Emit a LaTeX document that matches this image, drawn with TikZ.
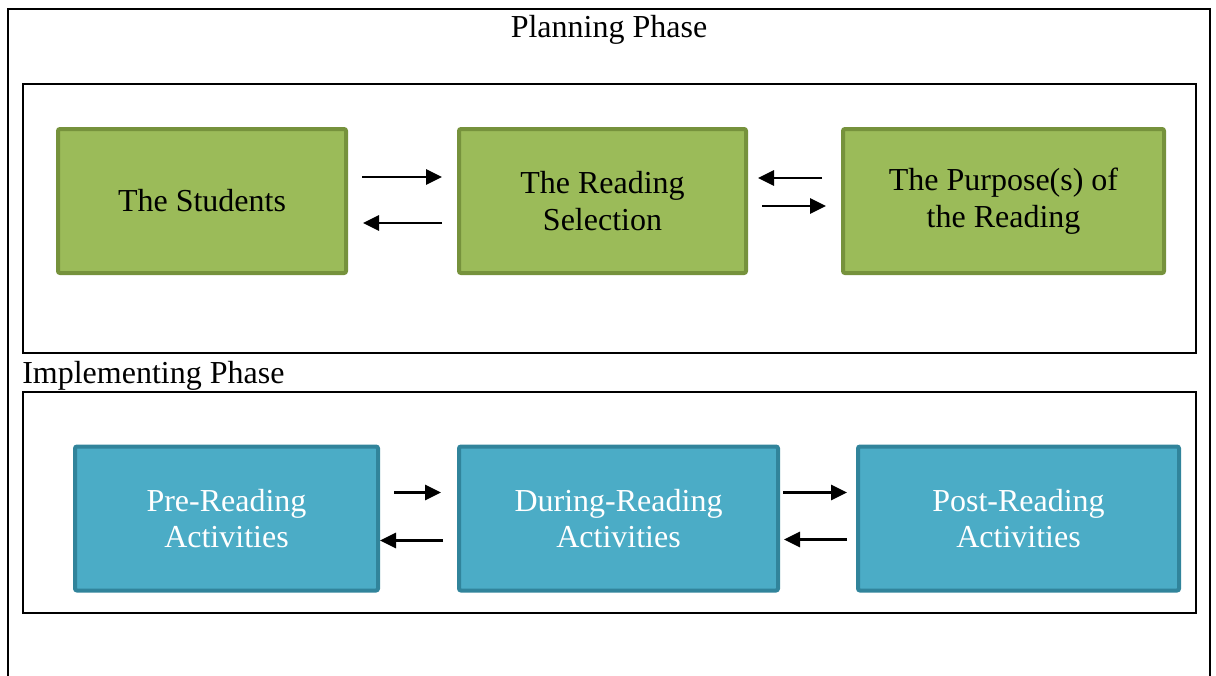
\documentclass[tikz,border=0pt]{standalone}
\usepackage{fontspec}
\setmainfont{Liberation Serif}
\usetikzlibrary{arrows.meta}

\definecolor{greenfill}{HTML}{9BBB59}
\definecolor{greenline}{HTML}{76923C}
\definecolor{bluefill}{HTML}{4BACC6}
\definecolor{blueline}{HTML}{31849B}

\tikzset{
  greenbox/.style={draw=greenline, fill=greenfill, line width=3pt, rounded corners=1.5pt,
    minimum height=108pt, inner sep=0pt, align=center, text=black},
  bluebox/.style={draw=blueline, fill=bluefill, line width=3pt, rounded corners=1.5pt,
    minimum height=108pt, inner sep=0pt, align=center, text=white},
  arr/.style={line width=1.7pt, -{Triangle[length=12pt,width=11.5pt]}},
  frame/.style={line width=1.6pt}
}

\begin{document}
\begin{tikzpicture}[x=0.75pt,y=-0.75pt,font=\fontsize{24}{27.6}\selectfont]
\useasboundingbox (0,0) rectangle (1216,675);

% outer frame, open at the bottom
\draw[line width=2pt] (8,690) -- (8,9) -- (1210,9) -- (1210,690);

% planning phase
\node[anchor=base] (plan) at (609,37) {Planning Phase};
\draw[frame] (23,84) rectangle (1196,353);

\node[greenbox, minimum width=216pt] (stud) at (202,201) {The Students};
\node[greenbox, minimum width=215.25pt] (sel) at (602.5,201) {The Reading\\Selection};
\node[greenbox, minimum width=240.75pt] (purp) at (1003.5,201) {The Purpose(s) of\\the Reading};

\draw[arr, shorten <=10.5pt, shorten >=11.25pt] ([yshift=18pt]stud.east) -- ([yshift=18pt]sel.west);
\draw[arr, shorten <=11.25pt, shorten >=11.25pt] ([yshift=-16.5pt]sel.west) -- ([yshift=-16.5pt]stud.east);
\draw[arr, shorten <=14.25pt, shorten >=7.5pt] ([yshift=17.25pt]purp.west) -- ([yshift=17.25pt]sel.east);
\draw[arr, shorten <=10.5pt, shorten >=11.25pt] ([yshift=-3.75pt]sel.east) -- ([yshift=-3.75pt]purp.west);

% implementing phase
\node[anchor=base west, inner sep=0pt] (impl) at (22,383) {Implementing Phase};
\draw[frame] (23,392) rectangle (1196,613);

\node[bluebox, minimum width=227.25pt] (pre) at (226.5,518.5) {Pre-Reading\\Activities};
\node[bluebox, minimum width=239.25pt] (during) at (618.5,518.5) {During-Reading\\Activities};
\node[bluebox, minimum width=240.75pt] (post) at (1018.5,518.5) {Post-Reading\\Activities};

\draw[arr, shorten <=10.5pt, shorten >=12pt] ([yshift=19.5pt]pre.east) -- ([yshift=19.5pt]during.west);
\draw[arr, shorten <=10.5pt, shorten >=0pt] ([yshift=-16.5pt]during.west) -- ([yshift=-16.5pt]pre.east);
\draw[arr, shorten <=2.25pt, shorten >=6.75pt] ([yshift=19.5pt]during.east) -- ([yshift=19.5pt]post.west);
\draw[arr, shorten <=6.75pt, shorten >=3pt] ([yshift=-15.75pt]post.west) -- ([yshift=-15.75pt]during.east);
\end{tikzpicture}
\end{document}
